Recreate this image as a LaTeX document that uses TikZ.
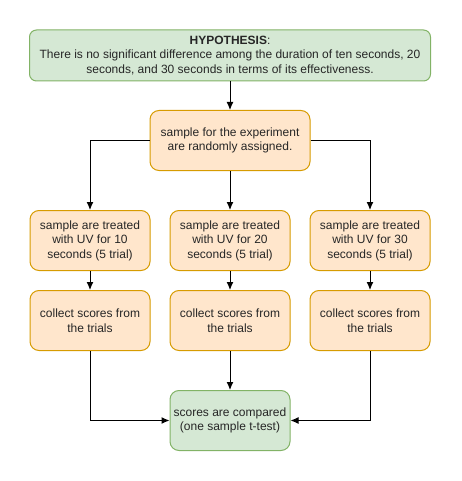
\documentclass[tikz,border=0pt]{standalone}
\usepackage{fontspec}
\setmainfont{Liberation Sans}
\usetikzlibrary{positioning, arrows.meta}

\definecolor{grnfill}{HTML}{D5E8D4}
\definecolor{grnline}{HTML}{82B366}
\definecolor{orgfill}{HTML}{FFE6CC}
\definecolor{orgline}{HTML}{D79B00}

\begin{document}
\begin{tikzpicture}[
    x=1pt, y=-1pt,
    arr/.style={line width=1pt, -{Latex[length=8pt, width=7pt]}},
    box/.style={draw, line width=1pt, rounded corners=9pt, align=center, inner sep=0pt,
        font=\fontsize{12}{14.5}\selectfont, text=black!85},
    org/.style={box, fill=orgfill, draw=orgline, minimum width=120pt, minimum height=60pt},
    grn/.style={box, fill=grnfill, draw=grnline},
  ]
  \useasboundingbox (0,0) rectangle (461,481);

  \node[grn, minimum width=401pt, minimum height=51pt, rounded corners=7pt] (hyp) at (230,55.5)
    {\textbf{HYPOTHESIS}:\\There is no significant difference among the duration of ten seconds, 20\\seconds, and 30 seconds in terms of its effectiveness.};
  \node[org, minimum width=160pt] (smp) at (230,140.5)
    {sample for the experiment\\are randomly assigned.};
  \draw[arr] (hyp) -- (smp);

  \foreach \i/\s in {0/10,1/20,2/30} {
      \node[org] (trt\i) at (90+140*\i,240.5) {sample are treated\\with UV for \s\\seconds (5 trial)};
      \node[org] (col\i) at (90+140*\i,320.5) {collect scores from\\the trials};
      \draw[arr] (trt\i) -- (col\i);
    }

  \node[grn, minimum width=120pt, minimum height=60pt] (cmp) at (230,420.5)
    {scores are compared\\(one sample t-test)};

  \draw[arr] (smp.west) -| (trt0);
  \draw[arr] (smp) -- (trt1);
  \draw[arr] (smp.east) -| (trt2);
  \draw[arr] (col0) |- (cmp.west);
  \draw[arr] (col1) -- (cmp);
  \draw[arr] (col2) |- (cmp.east);
\end{tikzpicture}
\end{document}
